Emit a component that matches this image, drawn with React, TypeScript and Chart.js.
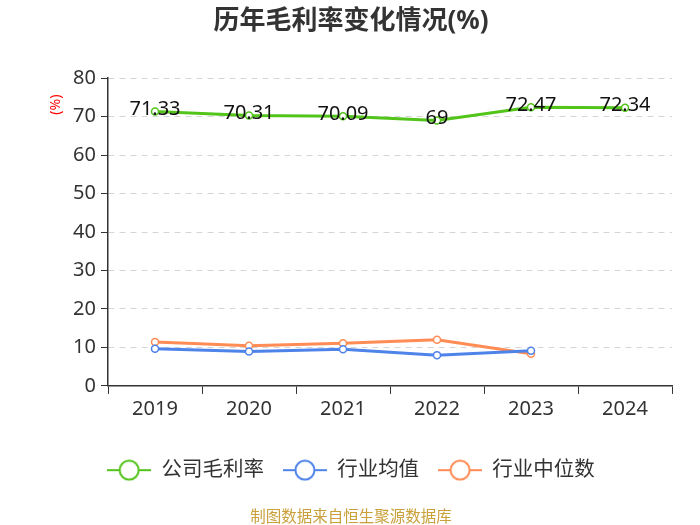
import React, { useEffect, useRef } from "react";
import { Chart, registerables } from "chart.js";

Chart.register(...registerables);

const categories = ["2019", "2020", "2021", "2022", "2023", "2024"];
const companyMargin = [71.33, 70.31, 70.09, 69, 72.47, 72.34];
const industryAvg = [9.67, 8.97, 9.5, 8.0, 9.15, null];
const industryMedian = [11.4, 10.46, 11.06, 12.0, 8.37, null];
const yTicks = [0, 10, 20, 30, 40, 50, 60, 70, 80];

const GREEN = "#52c41a";
const BLUE = "#4e83ea";
const ORANGE = "#ff8c55";
const FONT = '"Noto Sans", "Noto Sans CJK SC", sans-serif';

function legendIcon(color: string): HTMLCanvasElement {
  const c = document.createElement("canvas");
  c.width = 44;
  c.height = 22;
  const ctx = c.getContext("2d")!;
  ctx.strokeStyle = color;
  ctx.lineWidth = 2;
  ctx.beginPath();
  ctx.moveTo(0, 11);
  ctx.lineTo(12, 11);
  ctx.moveTo(32, 11);
  ctx.lineTo(44, 11);
  ctx.stroke();
  ctx.beginPath();
  ctx.arc(22, 11, 9.5, 0, Math.PI * 2);
  ctx.fillStyle = "#fff";
  ctx.fill();
  ctx.stroke();
  return c;
}

const labelPlugin = {
  id: "valueLabels",
  afterDatasetsDraw(chart: any) {
    const ctx = chart.ctx;
    const meta = chart.getDatasetMeta(0);
    ctx.save();
    ctx.font = `20px ${FONT}`;
    ctx.fillStyle = "#111";
    ctx.textAlign = "center";
    ctx.textBaseline = "middle";
    meta.data.forEach((pt: any, i: number) => {
      const v = companyMargin[i];
      if (v == null) return;
      ctx.fillText(String(v), pt.x, pt.y - 2);
    });
    // y axis unit label
    const yScale = chart.scales.y;
    const yPos = yScale.getPixelForValue(70);
    ctx.translate(56, yPos - 12);
    ctx.rotate(-Math.PI / 2);
    ctx.font = `14px ${FONT}`;
    ctx.fillStyle = "#ff0000";
    ctx.fillText("(%)", 0, 0);
    ctx.restore();
  },
};

export default function App() {
  const ref = useRef<HTMLCanvasElement>(null);
  useEffect(() => {
    if (!ref.current) return;
    const mk = (label: string, data: any[], color: string) => ({
      label,
      data,
      borderColor: color,
      backgroundColor: color,
      borderWidth: 3,
      pointRadius: 3.5,
      pointBorderWidth: 1.5,
      pointBackgroundColor: "#fff",
      pointBorderColor: color,
      pointStyle: "circle",
      tension: 0,
    });
    const ds = [
      mk("公司毛利率", companyMargin, GREEN),
      mk("行业均值", industryAvg, BLUE),
      mk("行业中位数", industryMedian, ORANGE),
    ];
    const icons = [legendIcon(GREEN), legendIcon(BLUE), legendIcon(ORANGE)];
    const chart = new Chart(ref.current, {
      type: "line",
      data: { labels: categories, datasets: ds as any },
      plugins: [labelPlugin],
      options: {
        animation: false,
        responsive: false,
        maintainAspectRatio: false,
        layout: { padding: { left: 30, right: 28, top: 3, bottom: 0 } },
        plugins: {
          title: {
            display: true,
            text: "历年毛利率变化情况(%)",
            color: "#333",
            font: { size: 26, weight: "bold", family: FONT },
            padding: { top: 3, bottom: 41 },
          },
          legend: {
            position: "bottom",
            labels: {
              usePointStyle: true,
              pointStyleWidth: 44,
              boxHeight: 20,
              padding: 19,
              color: "#333",
              font: { size: 20.5, family: FONT },
              generateLabels: (c: any) =>
                c.data.datasets.map((d: any, i: number) => ({
                  text: d.label,
                  pointStyle: icons[i],
                  fillStyle: "#fff",
                  strokeStyle: d.borderColor,
                  fontColor: "#333",
                  lineWidth: 0,
                  hidden: false,
                  datasetIndex: i,
                })),
            },
          },
          subtitle: {
            display: true,
            position: "bottom",
            text: "制图数据来自恒生聚源数据库",
            color: "#c9a03a",
            font: { size: 15.5, family: FONT },
            padding: { top: 18, bottom: -2 },
          },
          tooltip: { enabled: false },
        },
        scales: {
          x: {
            offset: true,
            grid: {
              offset: true,
              drawOnChartArea: false,
              drawTicks: true,
              tickLength: 8,
              tickColor: "#333",
            },
            border: { display: true, color: "#333", width: 1.5 },
            ticks: {
              color: "#333",
              font: { size: 20, family: FONT },
              padding: 3,
            },
            afterFit: (axis: any) => {
              axis.height += 17;
            },
          },
          y: {
            min: 0,
            max: 80,
            afterBuildTicks: (axis: any) => {
              axis.ticks = yTicks.map((v) => ({ value: v }));
            },
            afterFit: (axis: any) => {
              axis.width = 78;
            },
            grid: {
              color: "#d6d6d6",
              tickLength: 7,
              tickColor: "#333",
              lineWidth: 1,
            },
            border: { display: true, color: "#333", width: 1.5, dash: [6, 5] } as any,
            ticks: {
              color: "#333",
              font: { size: 20, family: FONT },
              padding: 5,
            },
          },
        },
      },
    });
    return () => chart.destroy();
  }, []);
  return (
    <div style={{ position: "fixed", left: 0, top: 0, width: 700, height: 525 }}>
      <canvas ref={ref} width={700} height={525} style={{ width: 700, height: 525 }} />
    </div>
  );
}
